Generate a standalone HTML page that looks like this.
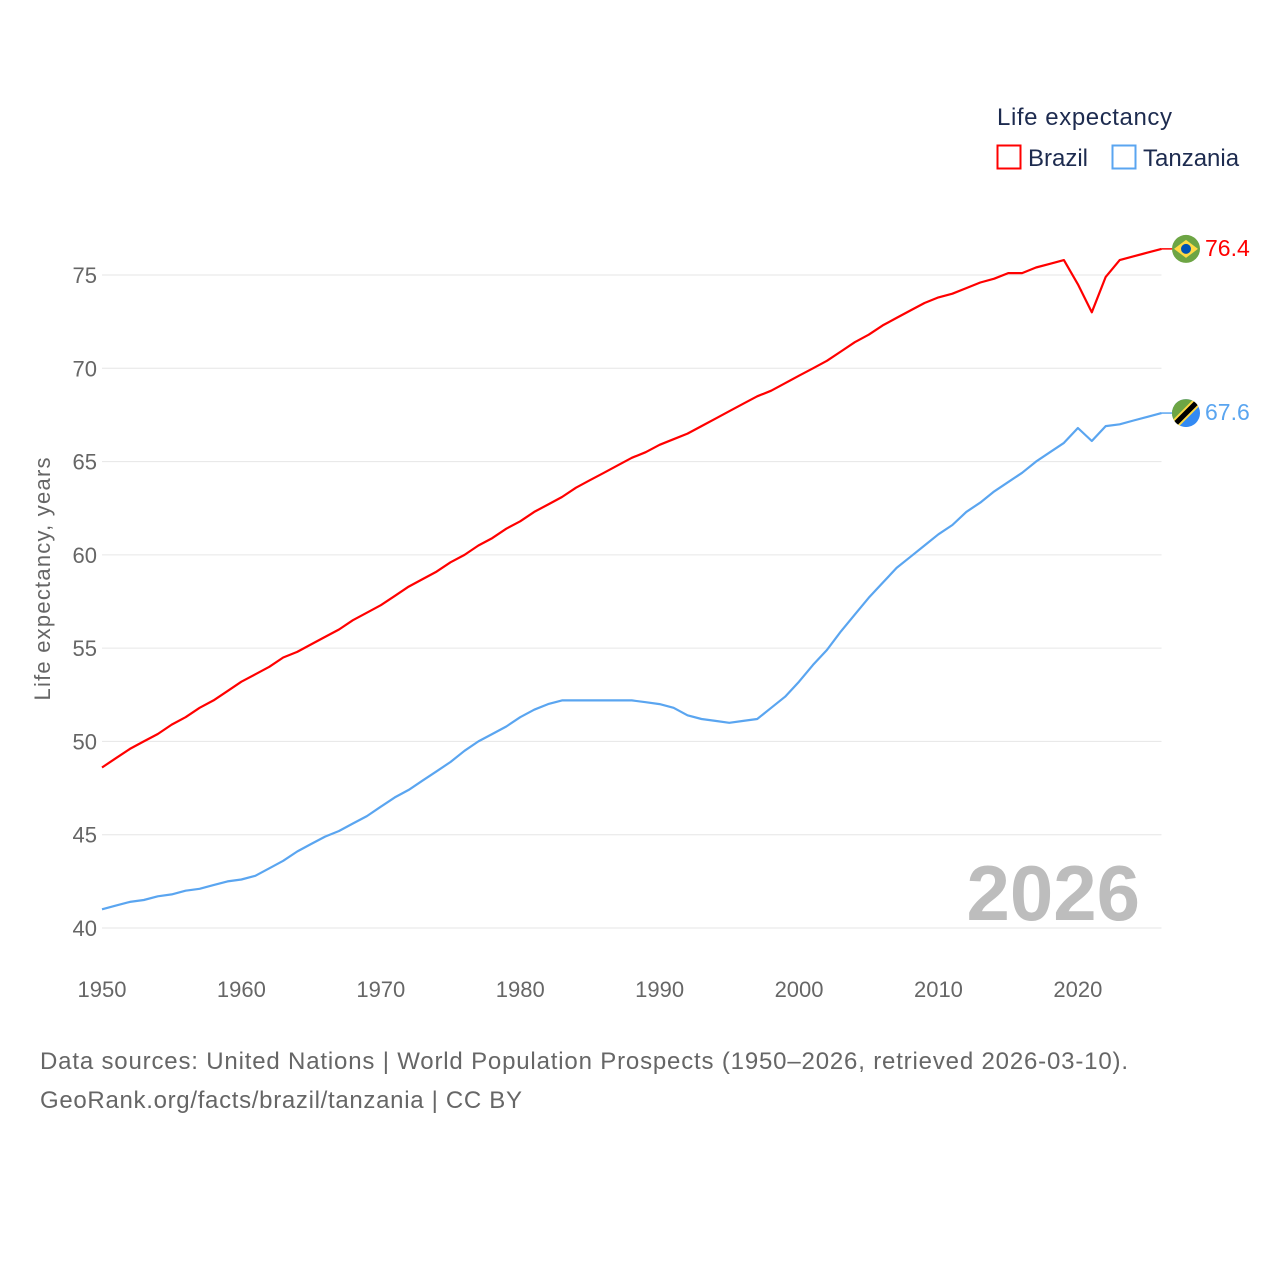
<!DOCTYPE html>
<html><head><meta charset="utf-8">
<style>
body{margin:0;background:#fff;font-family:"Liberation Sans",sans-serif;}
#wrap{position:relative;width:1280px;height:1280px;}
</style></head>
<body>
<div id="wrap">
<svg id="chart" width="1280" height="1280" xmlns="http://www.w3.org/2000/svg">
<text x="997" y="125" font-size="24" fill="#1d2b4f" textLength="175">Life expectancy</text>
<g>
<rect x="997.5" y="145.5" width="23" height="23" fill="none" stroke="#ff0000" stroke-width="2"/>
<text x="1028" y="166" font-size="24" fill="#1d2b4f">Brazil</text></g>
<g>
<rect x="1112.5" y="145.5" width="23" height="23" fill="none" stroke="#5aa5f0" stroke-width="2"/>
<text x="1143" y="166" font-size="24" fill="#1d2b4f">Tanzania</text></g>
<text transform="translate(50,579) rotate(-90)" text-anchor="middle" font-size="22" fill="#666" textLength="243">Life expectancy, years</text>
<g id="grid"></g><g id="yticks"></g><g id="xticks"></g>
<text x="1140" y="920" text-anchor="end" font-size="78" font-weight="bold" fill="#bdbdbd">2026</text>
<g id="series"></g>
<text x="40" y="1069" font-size="24" fill="#666" textLength="1088">Data sources: United Nations | World Population Prospects (1950–2026, retrieved 2026-03-10).</text>
<text x="40" y="1108" font-size="24" fill="#666" textLength="482">GeoRank.org/facts/brazil/tanzania | CC BY</text>
</svg>
</div>
<script>
const years=[];for(let y=1950;y<=2026;y++)years.push(y);
const brazil=[48.6,49.1,49.6,50.0,50.4,50.9,51.3,51.8,52.2,52.7,53.2,53.6,54.0,54.5,54.8,55.2,55.6,56.0,56.5,56.9,57.3,57.8,58.3,58.7,59.1,59.6,60.0,60.5,60.9,61.4,61.8,62.3,62.7,63.1,63.6,64.0,64.4,64.8,65.2,65.5,65.9,66.2,66.5,66.9,67.3,67.7,68.1,68.5,68.8,69.2,69.6,70.0,70.4,70.9,71.4,71.8,72.3,72.7,73.1,73.5,73.8,74.0,74.3,74.6,74.8,75.1,75.1,75.4,75.6,75.8,74.5,73.0,74.9,75.8,76.0,76.2,76.4];
const tanzania=[41.0,41.2,41.4,41.5,41.7,41.8,42.0,42.1,42.3,42.5,42.6,42.8,43.2,43.6,44.1,44.5,44.9,45.2,45.6,46.0,46.5,47.0,47.4,47.9,48.4,48.9,49.5,50.0,50.4,50.8,51.3,51.7,52.0,52.2,52.2,52.2,52.2,52.2,52.2,52.1,52.0,51.8,51.4,51.2,51.1,51.0,51.1,51.2,51.8,52.4,53.2,54.1,54.9,55.9,56.8,57.7,58.5,59.3,59.9,60.5,61.1,61.6,62.3,62.8,63.4,63.9,64.4,65.0,65.5,66.0,66.8,66.1,66.9,67.0,67.2,67.4,67.6];
const yTicks=[40,45,50,55,60,65,70,75];
const xTicks=[1950,1960,1970,1980,1990,2000,2010,2020];
const lastLabels=["76.4","67.6"];
const NS="http://www.w3.org/2000/svg";
const X0=102,X1=1161.5,Y0=928,Y1=275;
const sx=v=>X0+(v-1950)*(X1-X0)/76;
const sy=v=>Y0-(v-40)*(Y0-Y1)/35;
function el(t,a,p){const e=document.createElementNS(NS,t);for(const k in a)e.setAttribute(k,a[k]);p.appendChild(e);return e;}
const grid=document.getElementById('grid'),yt=document.getElementById('yticks'),xt=document.getElementById('xticks'),ser=document.getElementById('series');
yTicks.forEach(v=>{
 const l=el('line',{x1:X0,x2:X1,y1:sy(v),y2:sy(v),stroke:'#e6e6e6','stroke-width':1},grid);
 
 
 const t=el('text',{x:97,y:sy(v)+8,'text-anchor':'end','font-size':22,fill:'#666'},yt);t.textContent=v;
 
 
});
xTicks.forEach(v=>{
 const t=el('text',{x:sx(v),y:997,'text-anchor':'middle','font-size':22,fill:'#666'},xt);t.textContent=v;
 
 
});
function line(data,color,name){
 const d=data.map((v,i)=>(i?'L':'M')+sx(years[i]).toFixed(1)+','+sy(v).toFixed(1)).join('');
 const p=el('path',{d:d,fill:'none',stroke:color,'stroke-width':2.2,'stroke-linejoin':'round'},ser);
 
 
 const lv=data[data.length-1];
 el('line',{x1:X1,x2:1174,y1:sy(lv),y2:sy(lv),stroke:color,'stroke-width':1.5},ser);
}
line(brazil,'#ff0000','brazil-line');
line(tanzania,'#5aa5f0','tanzania-line');
const by=sy(brazil[brazil.length-1]),ty=sy(tanzania[tanzania.length-1]);
const fb=el('g',{},ser);


el('circle',{cx:1186,cy:by,r:14,fill:'#6da544'},fb);
el('polygon',{points:`1174,${by} 1186,${by-9} 1198,${by} 1186,${by+9}`,fill:'#ffda44'},fb);
el('circle',{cx:1186,cy:by,r:5,fill:'#0052b4'},fb);
const ft=el('g',{},ser);


el('clipPath',{id:'tc'},ft);
el('circle',{cx:1186,cy:ty,r:14},document.getElementById('tc'));
const tg=el('g',{'clip-path':'url(#tc)'},ft);
el('rect',{x:1172,y:ty-14,width:28,height:28,fill:'#338af3'},tg);
el('polygon',{points:`1172,${ty-14} 1200,${ty-14} 1172,${ty+14}`,fill:'#6da544'},tg);
el('line',{x1:1174,y1:ty+12,x2:1198,y2:ty-12,stroke:'#ffda44','stroke-width':9},tg);
el('line',{x1:1174,y1:ty+12,x2:1198,y2:ty-12,stroke:'#000','stroke-width':5},tg);
[[by,'#ff0000','brazil-end-label',0],[ty,'#5aa5f0','tanzania-end-label',1]].forEach(a=>{
 const t=el('text',{x:1205,y:a[0]+7,'font-size':23,fill:a[1]},ser);t.textContent=lastLabels[a[3]];
 
 
});
</script>
</body></html>
